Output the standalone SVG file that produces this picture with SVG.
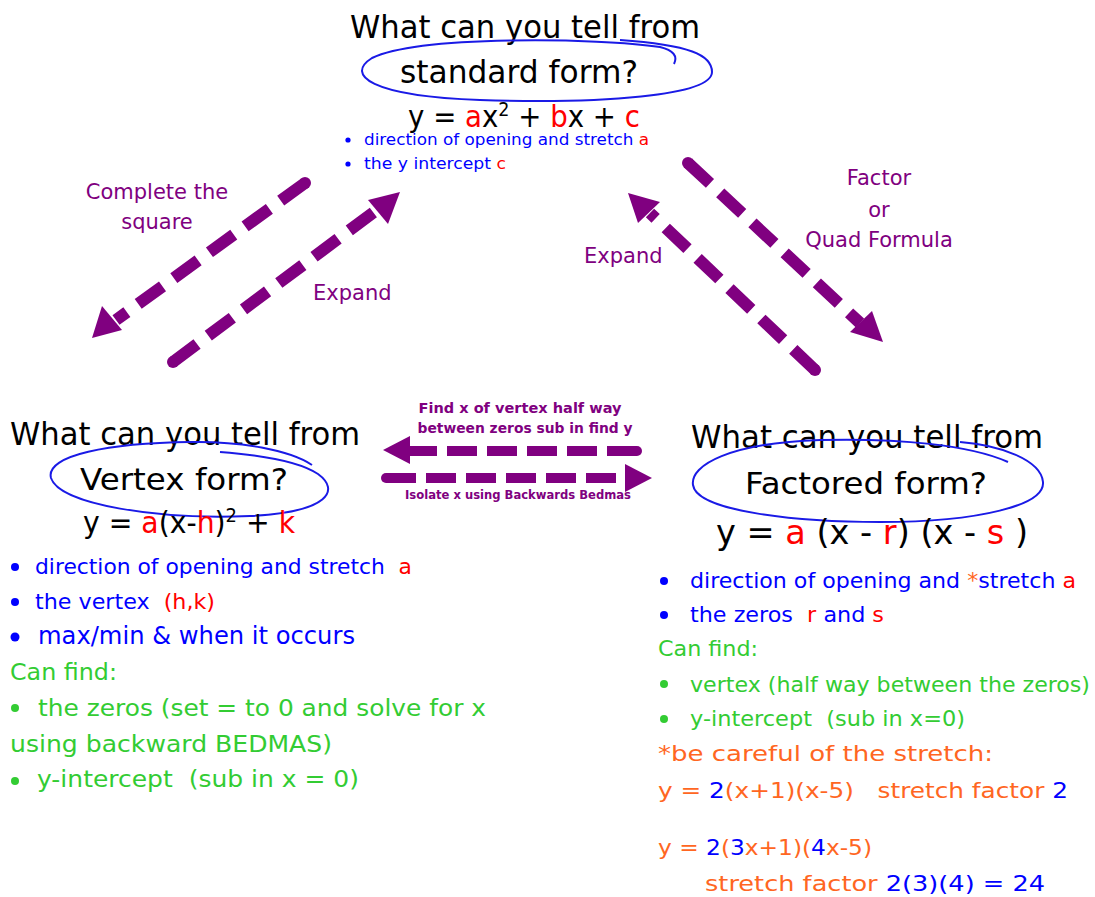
<svg xmlns="http://www.w3.org/2000/svg" width="1095" height="897" viewBox="0 0 1095 897">
<style>
text{font-family:"DejaVu Sans","Noto Sans",sans-serif;white-space:pre;}
.t{fill:#000;}
.r{fill:#ff0000;}
.b{fill:#0000ff;}
.g{fill:#33cc33;}
.o{fill:#ff6622;}
.p{fill:#800080;}
.loop{fill:none;stroke:#1a1ae6;stroke-width:2;}
.dd{fill:none;stroke:#800080;stroke-width:12;stroke-dasharray:30 14;stroke-linecap:butt;}
.dh{fill:none;stroke:#800080;stroke-width:10;stroke-dasharray:30 10;stroke-linecap:butt;}
.head{fill:#800080;}
</style>
<rect width="1095" height="897" fill="#fff"/>

<g id="standard">
<text class="t" x="525" y="38" font-size="32" text-anchor="middle" textLength="350" lengthAdjust="spacingAndGlyphs">What can you tell from</text>
<path class="loop" d="M674,64 Q680,52 660,47 C600,38 420,35 372,58 C345,75 370,96 480,100 C600,104 712,96 712,72 C712,55 690,45 620,40"/>
<text class="t" x="519" y="83" font-size="32" text-anchor="middle" textLength="238" lengthAdjust="spacingAndGlyphs">standard form?</text>
<text x="408" y="127" font-size="30" textLength="232" lengthAdjust="spacingAndGlyphs"><tspan class="t">y = </tspan><tspan class="r">a</tspan><tspan class="t">x</tspan><tspan class="t" font-size="19" dy="-11">2</tspan><tspan class="t" dy="11"> + </tspan><tspan class="r">b</tspan><tspan class="t">x + </tspan><tspan class="r">c</tspan></text>
<circle cx="348" cy="140" r="2.6" fill="#0000ff"/>
<text x="364" y="145" font-size="16" textLength="285" lengthAdjust="spacingAndGlyphs"><tspan class="b">direction of opening and stretch </tspan><tspan class="r">a</tspan></text>
<circle cx="348" cy="164" r="2.6" fill="#0000ff"/>
<text x="364" y="169" font-size="16" textLength="142" lengthAdjust="spacingAndGlyphs"><tspan class="b">the y intercept </tspan><tspan class="r">c</tspan></text>
</g>

<g id="vertex">
<text class="t" x="10" y="445" font-size="32" textLength="350" lengthAdjust="spacingAndGlyphs">What can you tell from</text>
<path class="loop" d="M220,452 C260,455 300,462 318,474 C340,490 330,512 250,516 C160,520 60,505 51,478 C45,455 110,443 190,442 C240,441 290,450 312,465"/>
<text class="t" x="80" y="490" font-size="31" textLength="208" lengthAdjust="spacingAndGlyphs">Vertex form?</text>
<text x="83" y="533" font-size="30" textLength="212" lengthAdjust="spacingAndGlyphs"><tspan class="t">y = </tspan><tspan class="r">a</tspan><tspan class="t">(x-</tspan><tspan class="r">h</tspan><tspan class="t">)</tspan><tspan class="t" font-size="19" dy="-11">2</tspan><tspan class="t" dy="11"> + </tspan><tspan class="r">k</tspan></text>
<circle cx="15" cy="567" r="4" fill="#0000ff"/>
<text x="35" y="574" font-size="21" textLength="377" lengthAdjust="spacingAndGlyphs"><tspan class="b">direction of opening and stretch  </tspan><tspan class="r">a</tspan></text>
<circle cx="15" cy="602" r="4" fill="#0000ff"/>
<text x="35" y="609" font-size="21" textLength="180" lengthAdjust="spacingAndGlyphs"><tspan class="b">the vertex  </tspan><tspan class="r">(h,k)</tspan></text>
<circle cx="15" cy="637" r="4.5" fill="#0000ff"/>
<text class="b" x="38" y="644" font-size="24" textLength="317" lengthAdjust="spacingAndGlyphs">max/min &amp; when it occurs</text>
<text class="g" x="10" y="680" font-size="23" textLength="107" lengthAdjust="spacingAndGlyphs">Can find:</text>
<circle cx="15" cy="708" r="4" fill="#33cc33"/>
<text class="g" x="38" y="716" font-size="23" textLength="448" lengthAdjust="spacingAndGlyphs">the zeros (set = to 0 and solve for x</text>
<text class="g" x="10" y="752" font-size="23" textLength="322" lengthAdjust="spacingAndGlyphs">using backward BEDMAS)</text>
<circle cx="15" cy="781" r="4" fill="#33cc33"/>
<text class="g" x="37" y="787" font-size="23" textLength="322" lengthAdjust="spacingAndGlyphs">y-intercept  (sub in x = 0)</text>
</g>

<g id="factored">
<text class="t" x="691" y="448" font-size="32" textLength="352" lengthAdjust="spacingAndGlyphs">What can you tell from</text>
<path class="loop" d="M1008,462 C970,445 900,438 820,440 C730,443 690,465 693,485 C697,512 800,522 880,522 C980,522 1045,505 1043,482 C1041,460 1000,445 960,442"/>
<text class="t" x="745" y="494" font-size="31" textLength="242" lengthAdjust="spacingAndGlyphs">Factored form?</text>
<text x="716" y="544" font-size="33" textLength="312" lengthAdjust="spacingAndGlyphs"><tspan class="t">y = </tspan><tspan class="r">a</tspan><tspan class="t"> (x - </tspan><tspan class="r">r</tspan><tspan class="t">) (x - </tspan><tspan class="r">s</tspan><tspan class="t"> )</tspan></text>
<circle cx="664" cy="581" r="4" fill="#0000ff"/>
<text x="690" y="588" font-size="21" textLength="386" lengthAdjust="spacingAndGlyphs"><tspan class="b">direction of opening and </tspan><tspan class="o">*</tspan><tspan class="b">stretch </tspan><tspan class="r">a</tspan></text>
<circle cx="664" cy="615" r="4" fill="#0000ff"/>
<text x="690" y="622" font-size="21" textLength="194" lengthAdjust="spacingAndGlyphs"><tspan class="b">the zeros  </tspan><tspan class="r">r</tspan><tspan class="b"> and </tspan><tspan class="r">s</tspan></text>
<text class="g" x="658" y="656" font-size="21" textLength="100" lengthAdjust="spacingAndGlyphs">Can find:</text>
<circle cx="664" cy="684" r="4" fill="#33cc33"/>
<text class="g" x="690" y="692" font-size="21" textLength="400" lengthAdjust="spacingAndGlyphs">vertex (half way between the zeros)</text>
<circle cx="664" cy="719" r="4" fill="#33cc33"/>
<text class="g" x="690" y="726" font-size="21" textLength="275" lengthAdjust="spacingAndGlyphs">y-intercept  (sub in x=0)</text>
<text class="o" x="658" y="761" font-size="21" textLength="335" lengthAdjust="spacingAndGlyphs">*be careful of the stretch:</text>
<text x="658" y="798" font-size="22" textLength="410" lengthAdjust="spacingAndGlyphs"><tspan class="o">y = </tspan><tspan class="b">2</tspan><tspan class="o">(x+1)(x-5)   stretch factor </tspan><tspan class="b">2</tspan></text>
<text x="658" y="855" font-size="22" textLength="214" lengthAdjust="spacingAndGlyphs"><tspan class="o">y = </tspan><tspan class="b">2</tspan><tspan class="o">(</tspan><tspan class="b">3</tspan><tspan class="o">x+1)(</tspan><tspan class="b">4</tspan><tspan class="o">x-5)</tspan></text>
<text x="705" y="891" font-size="22" textLength="340" lengthAdjust="spacingAndGlyphs"><tspan class="o">stretch factor </tspan><tspan class="b">2(3)(4) = 24</tspan></text>
</g>

<g id="connectors">
<path class="dd" d="M305,183 L116,320"/>
<circle cx="305" cy="183" r="6" fill="#800080"/>
<polygon class="head" points="92,338 102,306 122,330"/>
<path class="dd" d="M173,362 L378,209"/>
<circle cx="173" cy="362" r="6" fill="#800080"/>
<polygon class="head" points="400,192 388,224 368,200"/>
<path class="dd" d="M815,370 L650,213"/>
<circle cx="815" cy="370" r="6" fill="#800080"/>
<polygon class="head" points="628,193 660,202 638,223"/>
<path class="dd" d="M688,163 L860,323"/>
<circle cx="688" cy="163" r="6" fill="#800080"/>
<polygon class="head" points="883,342 850,332 872,311"/>
<path class="dh" d="M637,451 L408,451"/>
<circle cx="637" cy="451" r="5" fill="#800080"/>
<polygon class="head" points="383,450 410,436 410,464"/>
<path class="dh" d="M386,478 L626,478"/>
<circle cx="386" cy="478" r="5" fill="#800080"/>
<polygon class="head" points="652,478 625,464 625,492"/>
<text class="p" x="157" y="199" font-size="21" text-anchor="middle">Complete the</text>
<text class="p" x="157" y="229" font-size="21" text-anchor="middle">square</text>
<text class="p" x="313" y="300" font-size="21">Expand</text>
<text class="p" x="584" y="263" font-size="21">Expand</text>
<text class="p" x="879" y="185" font-size="21" text-anchor="middle">Factor</text>
<text class="p" x="879" y="217" font-size="21" text-anchor="middle">or</text>
<text class="p" x="879" y="247" font-size="21" text-anchor="middle">Quad Formula</text>
<text class="p" x="520" y="413" font-size="14" font-weight="bold" text-anchor="middle" textLength="203" lengthAdjust="spacingAndGlyphs">Find x of vertex half way</text>
<text class="p" x="525" y="433" font-size="14" font-weight="bold" text-anchor="middle" textLength="215" lengthAdjust="spacingAndGlyphs">between zeros sub in find y</text>
<text class="p" x="518" y="499" font-size="12" font-weight="bold" text-anchor="middle" textLength="226" lengthAdjust="spacingAndGlyphs">Isolate x using Backwards Bedmas</text>
</g>
</svg>
